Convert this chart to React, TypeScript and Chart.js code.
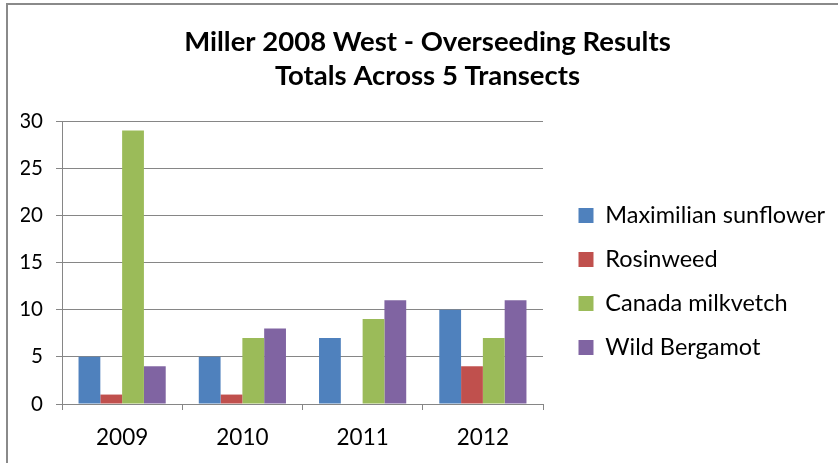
import React, { useEffect, useRef } from "react";
import { Chart, registerables } from "chart.js";

Chart.register(...registerables);

const categories = ["2009", "2010", "2011", "2012"];
const seriesNames = ["Maximilian sunflower", "Rosinweed", "Canada milkvetch", "Wild Bergamot"];
const maximilian = [5, 5, 7, 10];
const rosinweed = [1, 1, 0, 4];
const milkvetch = [29, 7, 9, 7];
const bergamot = [4, 8, 11, 11];
const colors = ["#4F81BD", "#C0504D", "#9BBB59", "#8064A2"];
const titleLines = ["Miller 2008 West - Overseeding Results", "Totals Across 5 Transects"];
const yTicks = { min: 0, max: 30, step: 5 };

const FONT = "Lato, 'Liberation Sans', sans-serif";

const legendTweak = {
  id: "legendTweak",
  beforeLayout(chart: any) {
    const lg = chart.legend;
    if (lg && !lg.__patched) {
      const orig = lg.fit.bind(lg);
      lg.fit = function () {
        orig();
        this.width = 291;
      };
      lg.__patched = true;
    }
  },
  afterLayout(chart: any) {
    const lg = chart.legend;
    if (lg) {
      lg.left += 15;
      lg.right += 15;
      lg.top += 50;
      lg.bottom += 50;
    }
  },
};

export default function App() {
  const ref = useRef<HTMLCanvasElement | null>(null);
  useEffect(() => {
    if (!ref.current) return;
    const values = [maximilian, rosinweed, milkvetch, bergamot];
    const chart = new Chart(ref.current, {
      type: "bar",
      data: {
        labels: categories,
        datasets: seriesNames.map((name, i) => ({
          label: name,
          data: values[i],
          backgroundColor: colors[i],
          borderWidth: 0,
          categoryPercentage: 0.725,
          barPercentage: 1,
        })),
      },
      options: {
        animation: false,
        responsive: false,
        maintainAspectRatio: false,
        layout: { padding: { left: 21, right: 4, top: 0, bottom: 0 } },
        plugins: {
          title: {
            display: true,
            text: titleLines,
            color: "#000",
            font: { family: FONT, size: 27.5, weight: "bold", lineHeight: 34 / 27.5 },
            padding: { top: 25, bottom: 28 },
          },
          legend: {
            position: "right",
            maxWidth: 400,
            labels: {
              color: "#000",
              font: { family: FONT, size: 23.5 },
              boxWidth: 15,
              boxHeight: 15,
              padding: 20.5,
            },
          },
          tooltip: { enabled: false },
        },
        scales: {
          x: {
            grid: {
              drawOnChartArea: false,
              drawTicks: true,
              tickLength: 6,
              color: "#868686",
            },
            border: { color: "#868686", width: 1 },
            ticks: { color: "#000", font: { family: FONT, size: 22.5 }, padding: 14 },
            afterFit(scale: any) {
              scale.height = 59;
            },
          },
          y: {
            min: yTicks.min,
            max: yTicks.max,
            ticks: { stepSize: yTicks.step, color: "#000", font: { family: FONT, size: 20.5 }, padding: 13 },
            grid: { color: "#868686", tickLength: 6 },
            border: { color: "#868686", width: 1 },
            afterFit(scale: any) {
              scale.width = 41;
            },
          },
        },
      },
      plugins: [legendTweak],
    });
    return () => chart.destroy();
  }, []);
  return (
    <div style={{ position: "fixed", left: 0, top: 0, width: 838, height: 463, background: "#fff", overflow: "hidden" }}>
      <div style={{ position: "absolute", left: 6, top: 3, width: 900, height: 600, border: "2px solid #8a8a8a" }} />
      <canvas ref={ref} width={838} height={463} style={{ position: "absolute", left: 0, top: 0 }} />
    </div>
  );
}
